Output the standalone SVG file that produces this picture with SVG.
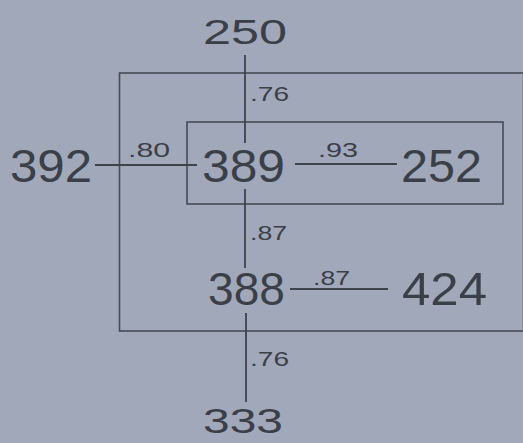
<svg xmlns="http://www.w3.org/2000/svg" width="523" height="443" viewBox="0 0 523 443">
<style>
.bg{fill:#a0a8ba}
.box{fill:none;stroke:#464b55;stroke-width:1.6}
.ln{stroke:#3e424b;stroke-width:1.8;fill:none}
.n{font-family:"Liberation Sans",Arial,sans-serif;font-size:46px;fill:#3b3f48}
.t{font-family:"Liberation Sans",Arial,sans-serif;font-size:35px;fill:#3b3f48}
.w{font-family:"Liberation Sans",Arial,sans-serif;font-size:20px;fill:#3b3f48}
</style>
<rect class="bg" x="0" y="0" width="523" height="443"/>
<g id="outer-box"><rect class="box" x="119.5" y="73" width="404" height="258"/></g>
<g id="inner-box"><rect class="box" x="187" y="122" width="316" height="82"/></g>
<g id="connectors">
<line class="ln" x1="245" y1="55" x2="245" y2="143"/>
<line class="ln" x1="95" y1="165" x2="197" y2="165"/>
<line class="ln" x1="295" y1="164" x2="397" y2="164"/>
<line class="ln" x1="245" y1="189" x2="245" y2="268"/>
<line class="ln" x1="290" y1="289" x2="388" y2="289"/>
<line class="ln" x1="246" y1="313" x2="246" y2="402"/>
<text class="w" x="250" y="101" textLength="39" lengthAdjust="spacingAndGlyphs">.76</text>
<text class="w" x="128" y="157" textLength="42" lengthAdjust="spacingAndGlyphs">.80</text>
<text class="w" x="318" y="157" textLength="40" lengthAdjust="spacingAndGlyphs">.93</text>
<text class="w" x="250" y="240" textLength="37" lengthAdjust="spacingAndGlyphs">.87</text>
<text class="w" x="313" y="285" textLength="37" lengthAdjust="spacingAndGlyphs">.87</text>
<text class="w" x="250" y="366" textLength="39" lengthAdjust="spacingAndGlyphs">.76</text>
</g>
<g id="n250"><text class="t" x="203" y="44" textLength="84" lengthAdjust="spacingAndGlyphs">250</text></g>
<g id="n392"><text class="n" x="10" y="182" textLength="82" lengthAdjust="spacingAndGlyphs">392</text></g>
<g id="n389"><text class="n" x="202" y="182" textLength="83" lengthAdjust="spacingAndGlyphs">389</text></g>
<g id="n252"><text class="n" x="401" y="182" textLength="81" lengthAdjust="spacingAndGlyphs">252</text></g>
<g id="n388"><text class="n" x="208" y="305" textLength="77" lengthAdjust="spacingAndGlyphs">388</text></g>
<g id="n424"><text class="n" x="402" y="305" textLength="85" lengthAdjust="spacingAndGlyphs">424</text></g>
<g id="n333"><text class="t" x="203" y="433" textLength="80" lengthAdjust="spacingAndGlyphs">333</text></g>
</svg>
